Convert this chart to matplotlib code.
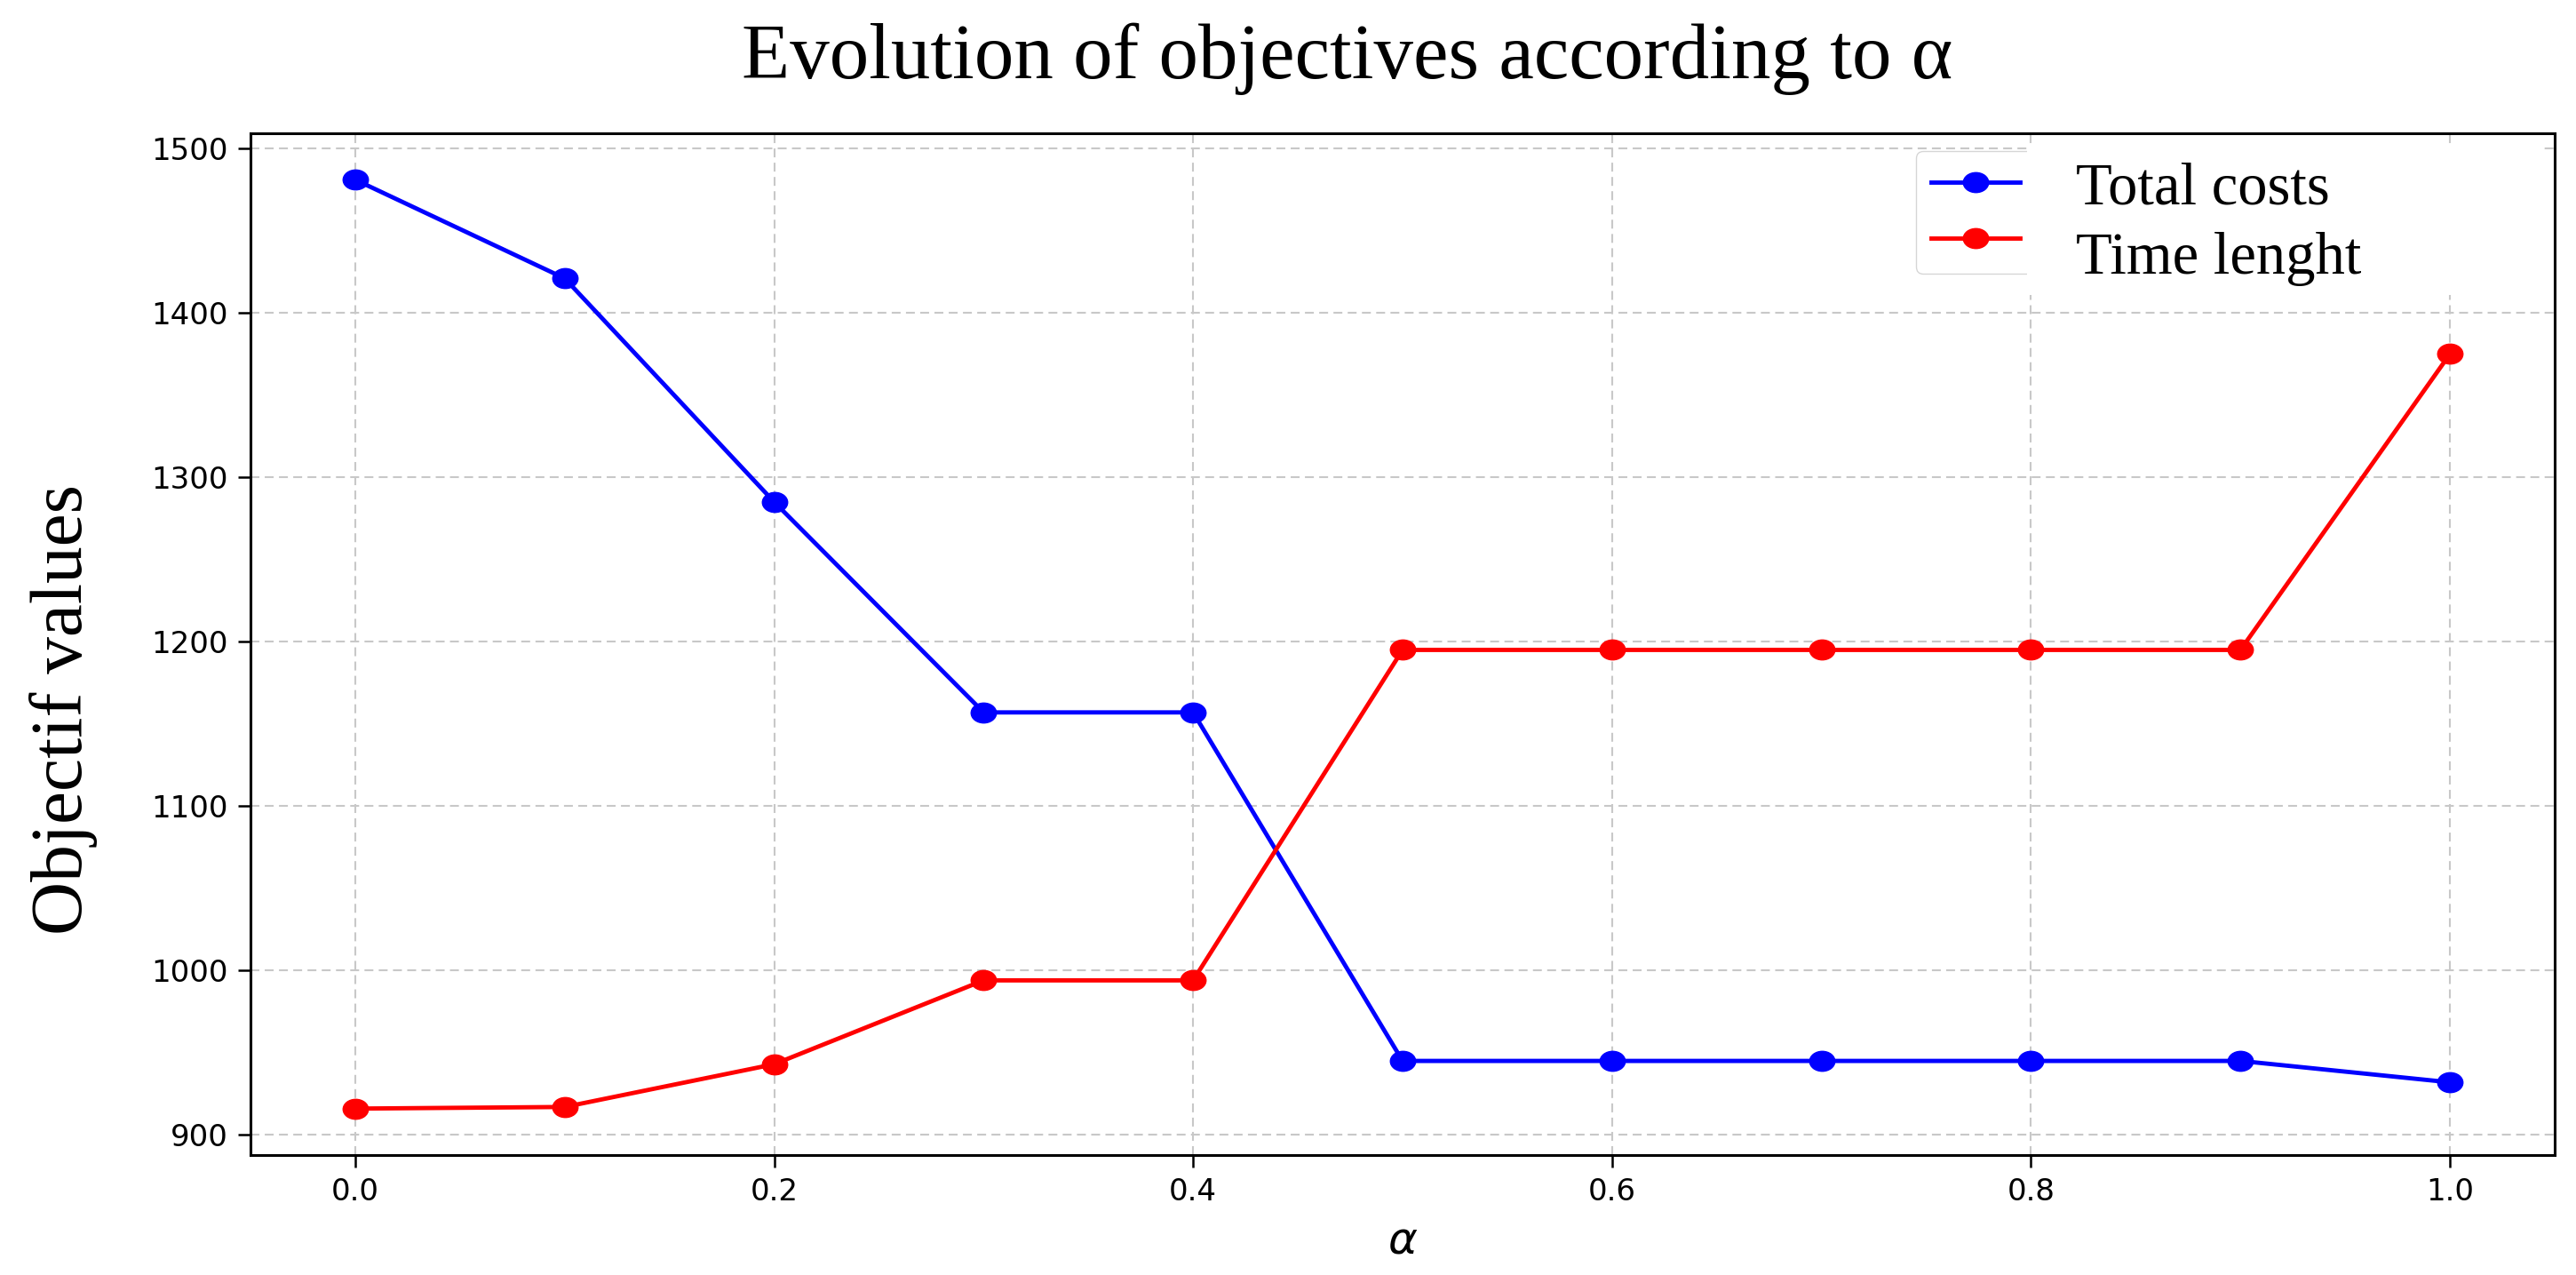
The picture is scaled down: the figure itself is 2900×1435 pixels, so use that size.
import numpy as np
import matplotlib
matplotlib.use("Agg")
import matplotlib.pyplot as plt
from matplotlib.path import Path
from matplotlib.patches import Rectangle

# data
alpha = [0.0, 0.1, 0.2, 0.3, 0.4, 0.5, 0.6, 0.7, 0.8, 0.9, 1.0]
total_costs = [1481, 1421, 1285, 1157, 1157, 945, 945, 945, 945, 945, 932]
time_length = [916, 917, 943, 994, 994, 1195, 1195, 1195, 1195, 1195, 1375]
series_labels = ["Total costs", "Time lenght"]
title = "Evolution of objectives according to α"
ylabel = "Objectif values"

W, H = 2900, 1435
fig = plt.figure(figsize=(W / 100, H / 100), dpi=100)
ax = fig.add_axes([282 / W, 1 - 1300 / H, (2876 - 282) / W, (1300 - 150) / H])

# the source picture was stretched sideways, so the dots are slightly wide ellipses
circ = Path.unit_circle()
ellipse = Path(circ.vertices * np.array([1.27, 1.0]), circ.codes)

l1, = ax.plot(alpha, total_costs, color="#0000ff", lw=3.5, marker=ellipse, markersize=20.5)
l2, = ax.plot(alpha, time_length, color="#ff0000", lw=3.5, marker=ellipse, markersize=20.5)

ax.grid(True, color="#c8c8c8", lw=1.5, dashes=(4.8, 2.9))
ax.set_axisbelow(True)
for s in ax.spines.values():
    s.set_linewidth(2.2)
ax.tick_params(labelsize=24.5, length=10, width=1.8, pad=8, colors="black")

ax.set_xlabel("$\\alpha$", fontsize=36, va="top")
ax.xaxis.set_label_coords(0.5, -0.063)
ax.set_ylabel(ylabel, fontsize=60, family="Liberation Serif", va="bottom")
ax.yaxis.set_label_coords((110 - 282) / (2876 - 282), (1300 - 798) / 1150)

fig.suptitle(title, x=1517 / W, y=1 - 88 / H, va="baseline", ha="center",
             fontsize=64, family="Liberation Serif")

# legend handles only, the names are drawn as separate text over a white box
ax.legend([l1, l2], ["", ""], loc="upper left", bbox_to_anchor=(2157 / W, 1 - 170 / H),
          bbox_transform=fig.transFigure, borderaxespad=0, fontsize=30, handlelength=2.4,
          edgecolor="0.8")

fig.add_artist(Rectangle((2282 / W, 1 - 332 / H), 580 / W, 170 / H, transform=fig.transFigure,
                         facecolor="white", edgecolor="none", zorder=10))
fig.text(2337 / W, 1 - 230 / H, series_labels[0], fontsize=48, family="Liberation Serif",
         va="baseline", ha="left", zorder=11)
fig.text(2337 / W, 1 - 308 / H, series_labels[1], fontsize=48, family="Liberation Serif",
         va="baseline", ha="left", zorder=11)

fig.savefig("out.png", dpi=100)
